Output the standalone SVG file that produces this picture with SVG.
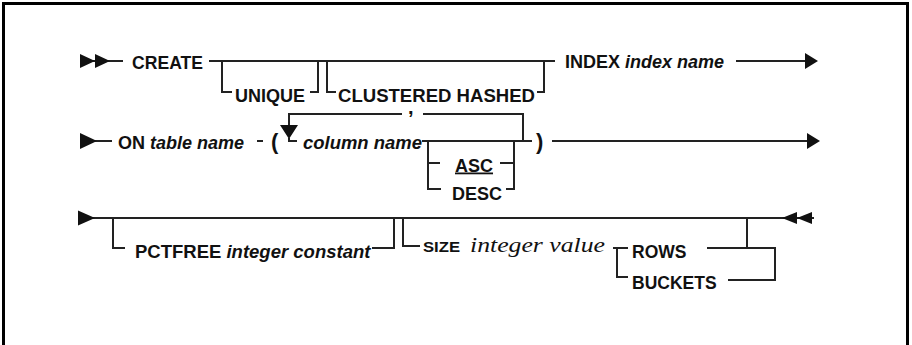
<svg xmlns="http://www.w3.org/2000/svg" width="912" height="345" viewBox="0 0 912 345">
<style>
.t{font-family:"Liberation Sans",Arial,sans-serif;font-weight:bold;font-size:18px;fill:#111}
.i{font-style:italic}
.s{font-family:"Liberation Serif","Times New Roman",serif;font-style:italic;font-size:22px;fill:#111}
.l{fill:none;stroke:#222;stroke-width:2}
.a{fill:#111;stroke:none}
</style>
<rect x="0" y="0" width="912" height="345" fill="#fff"/>
<rect x="3.5" y="3.5" width="904" height="400" fill="none" stroke="#000" stroke-width="3"/>
<g id="connectors">
  <path class="l" d="M80,61 H123 M209,61 H555 M222,61 V92 H232 M310,92 H318 V61 M327,61 V92 H336 M537,92 H544 V61 M736,61 H806"/>
  <path class="l" d="M80,141 H112 M257,141 H263 M402,114 H289 V126 M423,114 H523 V141 M289,138 V141 H297 M422,141 H532 M428,141 V189 H441 M428,163 H440 M500,163 H514 M506,189 H514 V141 M552,141 H808"/>
  <path class="l" d="M78,218 H814 M113,218 V248 H125 M372,248 H394 V218 M403,218 V246 H420 M613,248 H628 M617,248 V277 H628 M707,248 H775 V280 H728 M747,218 V248"/>
  <path class="a" d="M80,54 L95,61 L80,68 Z M95,54 L110,61 L95,68 Z M805,53 L818,61 L805,69 Z"/>
  <path class="a" d="M80,133 L97,141 L80,149 Z M807,133 L820,141 L807,149 Z M280,125 L298,125 L289,139 Z"/>
  <path class="a" d="M78,210.5 L95,218 L78,225.5 Z M797,212 L782,218 L797,224 Z M812,212 L797,218 L812,224 Z"/>
</g>
<g id="create"><text class="t" x="132" y="69" textLength="71" lengthAdjust="spacingAndGlyphs">CREATE</text></g>
<g id="unique"><text class="t" x="235" y="101.5" textLength="70" lengthAdjust="spacingAndGlyphs">UNIQUE</text></g>
<g id="clustered"><text class="t" x="338" y="101.5" textLength="197" lengthAdjust="spacingAndGlyphs">CLUSTERED HASHED</text></g>
<g id="index"><text class="t" x="565" y="68">INDEX <tspan class="i">index name</tspan></text></g>
<g id="on"><text class="t" x="118" y="149">ON <tspan class="i">table name</tspan></text></g>
<g id="lparen"><text class="t" x="271" y="149" style="font-size:22px">(</text></g>
<g id="comma"><text class="t" x="408" y="114" style="font-size:20px">,</text></g>
<g id="column"><text class="t i" x="303" y="149" textLength="119" lengthAdjust="spacingAndGlyphs">column name</text></g>
<g id="asc"><text class="t" x="455" y="171.5" style="text-decoration:underline">ASC</text></g>
<g id="desc"><text class="t" x="452" y="200">DESC</text></g>
<g id="rparen"><text class="t" x="536" y="149" style="font-size:22px">)</text></g>
<g id="pctfree"><text class="t" x="135" y="258" style="font-size:18.5px">PCTFREE <tspan class="i">integer constant</tspan></text></g>
<g id="size"><text class="t" x="423" y="252" style="font-size:15px" textLength="37" lengthAdjust="spacingAndGlyphs">SIZE</text><text class="s" x="470" y="252" textLength="135" lengthAdjust="spacingAndGlyphs">integer value</text></g>
<g id="rows"><text class="t" x="632" y="258" style="font-size:17.5px">ROWS</text></g>
<g id="buckets"><text class="t" x="632" y="289" style="font-size:17.5px">BUCKETS</text></g>
</svg>
